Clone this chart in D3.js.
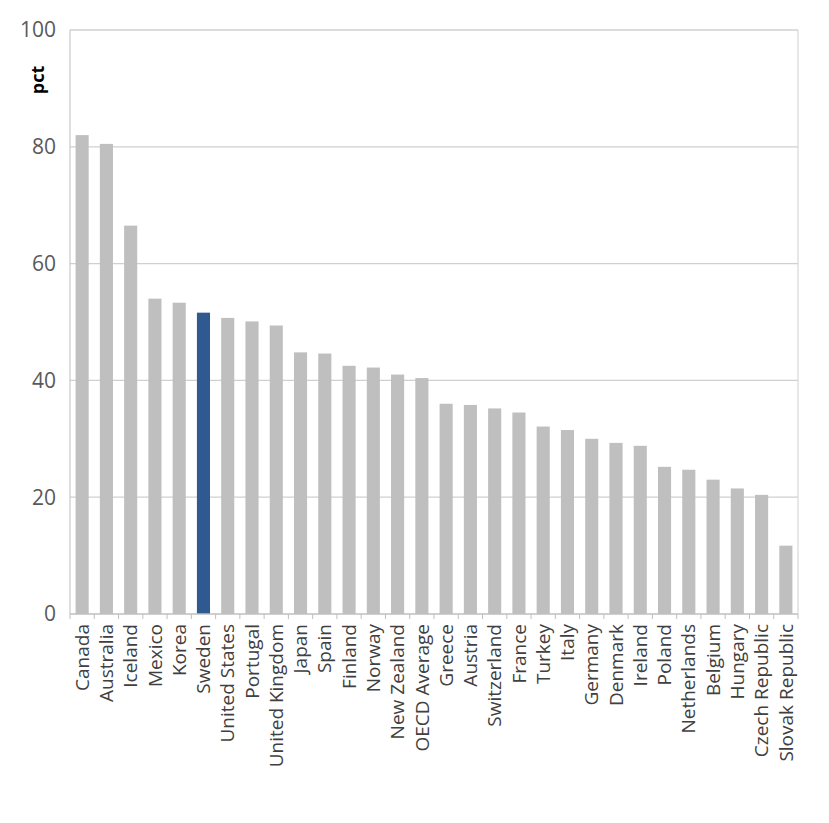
<!DOCTYPE html><html><head><meta charset="utf-8"><script src="https://cdn.jsdelivr.net/npm/d3@7"></script>
<style>body{margin:0;background:#fff}</style></head><body><svg id="c" width="829" height="823"></svg><script>
const countries=["Canada","Australia","Iceland","Mexico","Korea","Sweden","United States","Portugal","United Kingdom","Japan","Spain","Finland","Norway","New Zealand","OECD  Average","Greece","Austria","Switzerland","France","Turkey","Italy","Germany","Denmark","Ireland","Poland","Netherlands","Belgium","Hungary","Czech Republic","Slovak Republic"];
const values=[82.0,80.5,66.5,54.0,53.3,51.6,50.7,50.1,49.4,44.8,44.6,42.5,42.2,41.0,40.4,36.0,35.8,35.2,34.5,32.1,31.5,30.0,29.3,28.8,25.2,24.7,23.0,21.5,20.4,11.7];
const yTicks=[0,20,40,60,80,100];
const highlight="Sweden";
const svg=d3.select("#c");
const L=70,R=798,T=30,B=614;
const x=d3.scaleBand().domain(countries).range([L,R]).paddingInner(0.46).paddingOuter(0.23);
const y=d3.scaleLinear().domain([0,100]).range([B,T]);
svg.append("g").selectAll("line").data(yTicks.slice(1)).join("line")
 .attr("x1",L).attr("x2",R).attr("y1",d=>y(d)).attr("y2",d=>y(d)).attr("stroke","#d0d0d0").attr("stroke-width",1.3);
svg.append("line").attr("x1",L).attr("x2",L).attr("y1",T).attr("y2",B).attr("stroke","#bfbfbf");
svg.append("line").attr("x1",R).attr("x2",R).attr("y1",T).attr("y2",B).attr("stroke","#d0d0d0");
svg.append("g").selectAll("rect").data(countries).join("rect")
 .attr("x",d=>x(d)).attr("width",x.bandwidth()).attr("y",(d,i)=>y(values[i])).attr("height",(d,i)=>B-y(values[i]))
 .attr("fill",d=>d===highlight?"#2f5a8f":"#bfbfbf");
svg.append("line").attr("x1",L).attr("x2",R).attr("y1",B).attr("y2",B).attr("stroke","#bfbfbf").attr("stroke-width",1.3);
svg.append("g").selectAll("line").data(d3.range(countries.length+1)).join("line")
 .attr("x1",i=>L+i*(R-L)/countries.length).attr("x2",i=>L+i*(R-L)/countries.length).attr("y1",B).attr("y2",B+5).attr("stroke","#bfbfbf");
svg.append("g").selectAll("text").data(yTicks).join("text")
 .attr("x",L-14).attr("y",d=>y(d)).attr("dy","0.35em").attr("text-anchor","end")
 .attr("font-family","Open Sans, sans-serif").attr("font-size",21).attr("fill","#595959").text(d=>d);
svg.append("text").attr("transform","translate(44,80) rotate(-90)").attr("text-anchor","middle")
 .attr("font-family","Open Sans, sans-serif").attr("font-weight","bold").attr("font-size",18).attr("fill","#000").text("pct");
svg.append("g").selectAll("text").data(countries).join("text")
 .attr("transform",d=>`translate(${x(d)+x.bandwidth()/2},${B+10}) rotate(-90)`).attr("dy","0.35em").attr("text-anchor","end")
 .attr("font-family","Open Sans, sans-serif").attr("font-size",19).attr("fill","#404040").text(d=>d);
</script></body></html>
